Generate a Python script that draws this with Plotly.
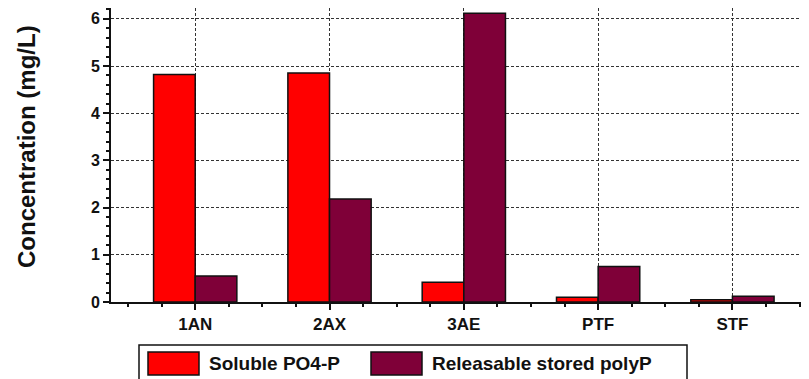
import plotly.graph_objects as go

# data
categories = ["1AN", "2AX", "3AE", "PTF", "STF"]
soluble_po4 = [4.82, 4.85, 0.42, 0.10, 0.05]
stored_polyp = [0.55, 2.18, 6.12, 0.75, 0.12]
series_names = ["Soluble PO4-P", "Releasable stored polyP"]
series_colors = ["#FF0000", "#7F0038"]

# the page body has an 8px margin, so the figure is sized to the visible area
OFF = 8
W, H = 809 - OFF, 379 - OFF
L, R, T, B = 111 - OFF, 0, 8 - OFF, 379 - 302
FONT = "Liberation Sans, Arial, sans-serif"

x_pos = list(range(len(categories)))

fig = go.Figure()
for name, vals, col in zip(series_names, [soluble_po4, stored_polyp], series_colors):
    fig.add_trace(go.Bar(
        x=x_pos, y=vals, name=name,
        marker=dict(color=col, line=dict(color="#111111", width=1.5)),
        showlegend=False,
    ))

fig.update_layout(
    width=W, height=H,
    margin=dict(l=L, r=R, t=T, b=B, autoexpand=False),
    paper_bgcolor="white", plot_bgcolor="white",
    barmode="group", bargap=0.38, bargroupgap=0,
    font=dict(family=FONT, color="#111111"),
)

fig.update_xaxes(
    range=[-0.627, 4.57],
    tickvals=x_pos, ticktext=[f"<b>{c}</b>" for c in categories],
    tickfont=dict(size=17),
    ticks="outside", ticklen=6, tickwidth=1.5, tickcolor="#111111",
    minor=dict(dtick=0.25, tick0=0, ticks="outside", ticklen=3,
               tickcolor="#111111", showgrid=False),
    showline=True, linecolor="#111111", linewidth=2, mirror=True,
    showgrid=True, gridcolor="#333333", gridwidth=1, griddash="3px,2px",
    zeroline=False, automargin=False,
)
fig.update_yaxes(
    range=[0, 6.23],
    tickvals=[0, 1, 2, 3, 4, 5, 6],
    ticktext=[f"<b>{v}</b>" for v in range(7)],
    tickfont=dict(size=16),
    ticks="outside", ticklen=6, tickwidth=1.5, tickcolor="#111111",
    minor=dict(dtick=0.2, tick0=0, ticks="outside", ticklen=3,
               tickcolor="#111111", showgrid=False),
    showline=True, linecolor="#111111", linewidth=2,
    showgrid=True, gridcolor="#333333", gridwidth=1, griddash="3px,2px",
    zeroline=False, automargin=False,
)

# helpers: page pixel -> paper coordinates
pw, ph = W - L - R, H - T - B
def px_x(p):
    return (p - OFF - L) / pw
def px_y(p):
    return (H - B - (p - OFF)) / ph

fig.add_annotation(xref="paper", yref="paper", x=px_x(26), y=px_y(147),
                   text="<b>Concentration (mg/L)</b>", textangle=-90, showarrow=False,
                   xanchor="center", yanchor="middle",
                   font=dict(size=24, family=FONT, color="#111111"))

# custom legend below the plot (wide swatches like the original)
fig.add_shape(type="rect", xref="paper", yref="paper",
              x0=px_x(139), x1=px_x(687), y0=px_y(345), y1=px_y(390),
              line=dict(color="#111111", width=1.5), fillcolor="white")
swatch_x = [148, 371]
for sx, name, col in zip(swatch_x, series_names, series_colors):
    fig.add_shape(type="rect", xref="paper", yref="paper",
                  x0=px_x(sx), x1=px_x(sx + 51), y0=px_y(352), y1=px_y(375),
                  line=dict(color="#111111", width=1.5), fillcolor=col)
    fig.add_annotation(xref="paper", yref="paper", x=px_x(sx + 59), y=px_y(363.5),
                       text=f"<b>{name}</b>", showarrow=False,
                       xanchor="left", yanchor="middle",
                       font=dict(size=19, family=FONT, color="#111111"))

fig.write_html("out.html")
